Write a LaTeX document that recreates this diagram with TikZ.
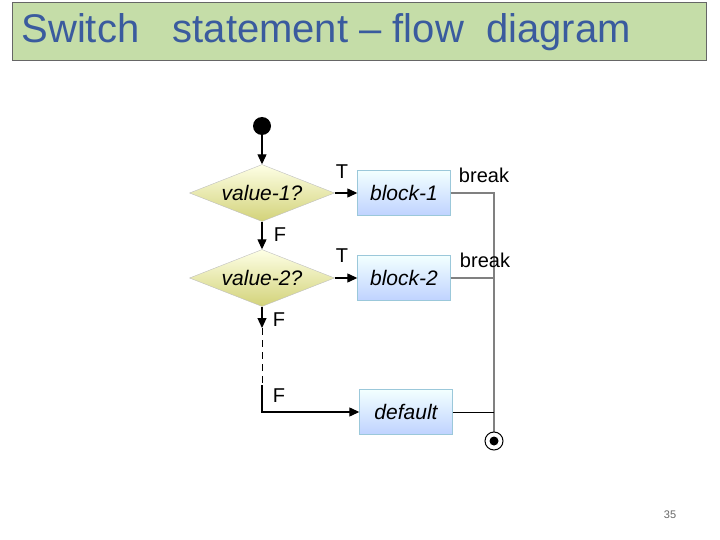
\documentclass[tikz,border=0pt]{standalone}
\usepackage{fontspec}
\setmainfont{Liberation Sans}
\usetikzlibrary{arrows.meta,shapes.geometric}
\definecolor{titlebg}{HTML}{C5DDA8}
\definecolor{titletext}{HTML}{3A5B9E}
\definecolor{linegray}{HTML}{808080}
\tikzset{
  cond/.style={diamond, aspect=2.55, draw=black!25, top color=green!5!yellow!10, bottom color=olive!35!white, minimum width=145pt, minimum height=57pt, inner sep=0pt, font=\itshape\fontsize{21}{21}\selectfont},
  block/.style={draw=cyan!50!gray!60, top color=cyan!5, bottom color=cyan!30!blue!25, minimum width=93pt, minimum height=45pt, inner sep=0pt, font=\itshape\fontsize{21}{21}\selectfont},
  flow/.style={-{Triangle[length=10pt,width=9pt]}, line width=1.2pt},
  lbl/.style={font=\fontsize{20}{20}\selectfont}
}
\begin{document}
\begin{tikzpicture}[x=1pt, y=-1pt]
\useasboundingbox (0,0) rectangle (720,540);
\node[draw=black!60, fill=titlebg, minimum width=694pt, minimum height=58pt, anchor=north west] (title) at (12,2) {};
\node[anchor=west, text=titletext, font=\fontsize{40}{40}\selectfont] at (18,32) {Switch\ \ \ statement – flow\ \ diagram};

	\fill (262,126) circle [radius=9];
	\coordinate (start) at (262,126);
\node[cond] (v1) at (262,193) {value-1?};
\node[cond] (v2) at (262,278) {value-2?};
\node[block] (b1) at (404,193) {block-1};
\node[block] (b2) at (404,278) {block-2};
\node[block] (df) at (406,412) {default};
	\coordinate (end) at (494,441);
	\coordinate (f2) at (262,328);
	\coordinate (d1) at (262,385);
	\coordinate (dc) at (262,412);
	\coordinate (j1) at (494,193);
	\coordinate (j2) at (494,278);
	\coordinate (j3) at (494,412);

\draw[flow] (start) -- (v1.north);
\draw[flow] (v1.south) -- (v2.north);
\draw[flow] (v1.east) -- (b1.west);
\draw[flow] (v2.east) -- (b2.west);
\draw[flow] (v2.south) -- (f2);
\draw[dash pattern=on 7pt off 5pt, line width=0.8pt] (f2) -- (d1);
\draw[flow] (d1) -- (dc) -- (df.west);

\draw[linegray, line width=2pt] (b1.east) -- (j1) -- (end);
\draw[linegray, line width=2pt] (b2.east) -- (j2);
\draw[line width=1pt] (df.east) -- (j3);
\draw[line width=1pt, fill=white] (end) circle [radius=9];
\fill (end) circle [radius=4.5];

\node[lbl] at (342,172) {T};
\node[lbl] at (342,256) {T};
\node[lbl] at (280,235) {F};
\node[lbl] at (279,320) {F};
\node[lbl] at (279,396) {F};
\node[lbl] at (484,175) {break};
\node[lbl] at (485,260) {break};
\node[text=black!60, font=\fontsize{11}{11}\selectfont] at (670,515) {35};
\end{tikzpicture}
\end{document}
